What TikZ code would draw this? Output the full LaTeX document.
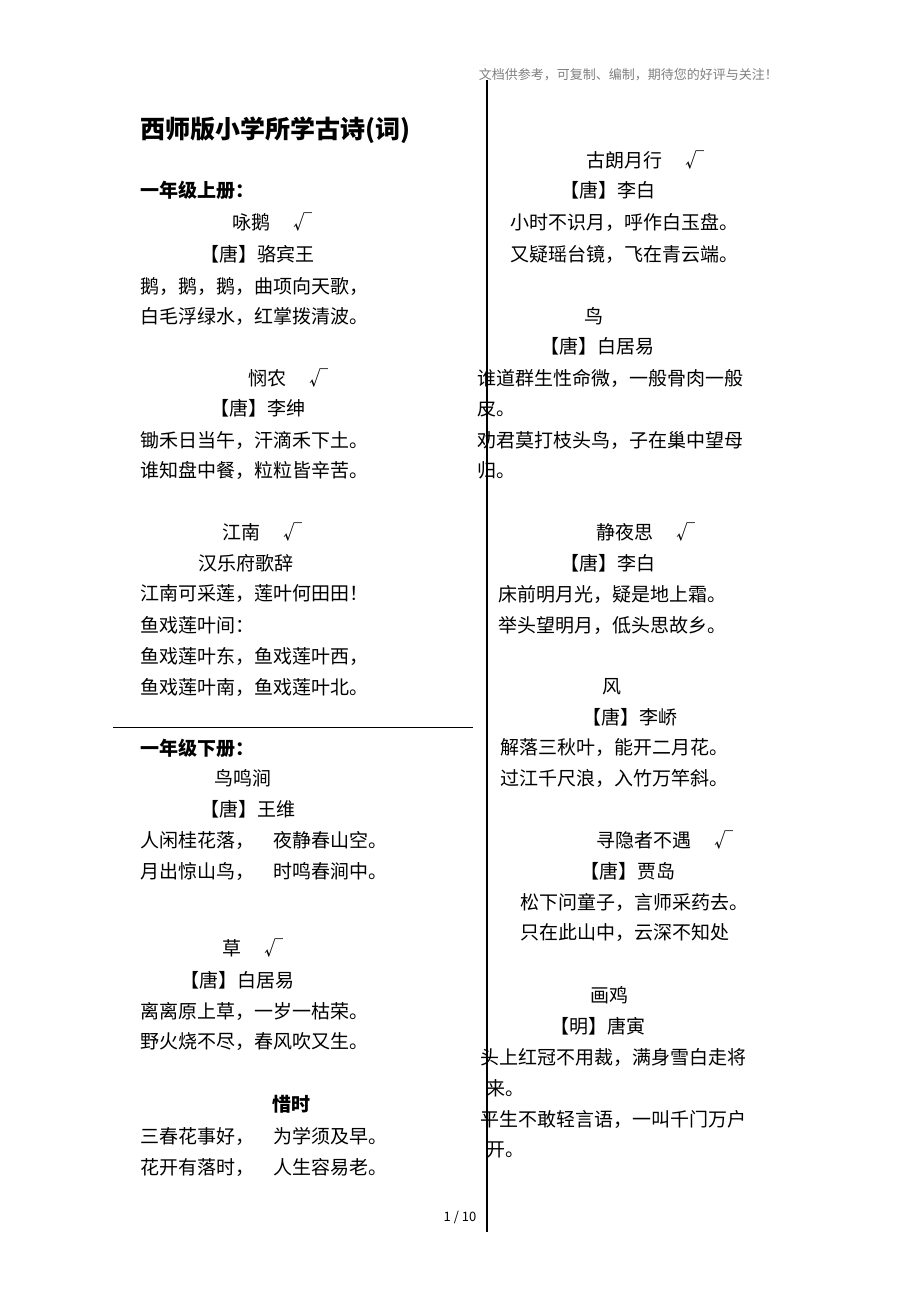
\documentclass[tikz,border=0pt]{standalone}
\usepackage{fontspec}
\setmainfont{Noto Sans CJK SC}
\newcommand{\tx}[4]{\node[anchor=west,inner sep=0pt,font=\fontsize{19}{19}\selectfont] (#1) at (#2,#3) {#4};}
\newcommand{\tb}[4]{\node[anchor=west,inner sep=0pt,font=\fontsize{19}{19}\selectfont\bfseries] (#1) at (#2,#3) {#4};}
\begin{document}
\begin{tikzpicture}[x=1pt,y=-1pt]
\useasboundingbox[fill=white] (0,0) rectangle (920,1302);
\node[anchor=east,inner sep=0pt,text=gray,font=\fontsize{13}{13}\selectfont] (hdr) at (778,75) {文档供参考，可复制、编制，期待您的好评与关注！};
\node[anchor=west,inner sep=0pt,font=\fontsize{25}{25}\selectfont\bfseries] (title) at (140,130) {西师版小学所学古诗(词)};
\coordinate (vt) at (487,80); \coordinate (vb) at (487,1232);
\draw[line width=1.2pt] (vt) -- (vb);
\coordinate (hl) at (113,727); \coordinate (hr) at (473,727);
\draw[line width=0.8pt] (hl) -- (hr);
\tb{a1}{140}{190}{一年级上册：}
\tx{a2}{232}{222}{咏鹅　 √}
\tx{a3}{200}{254}{【唐】骆宾王}
\tx{a4}{140}{286}{鹅，鹅，鹅，曲项向天歌，}
\tx{a5}{140}{316}{白毛浮绿水，红掌拨清波。}
\tx{a6}{248}{378}{悯农　 √}
\tx{a7}{210}{408}{【唐】李绅}
\tx{a8}{140}{440}{锄禾日当午，汗滴禾下土。}
\tx{a9}{140}{470}{谁知盘中餐，粒粒皆辛苦。}
\tx{a10}{222}{532}{江南　 √}
\tx{a11}{198}{563}{汉乐府歌辞}
\tx{a12}{140}{594}{江南可采莲，莲叶何田田！}
\tx{a13}{140}{625}{鱼戏莲叶间：}
\tx{a14}{140}{656}{鱼戏莲叶东，鱼戏莲叶西，}
\tx{a15}{140}{687}{鱼戏莲叶南，鱼戏莲叶北。}
\tb{b1}{140}{748}{一年级下册：}
\tx{b2}{214}{778}{鸟鸣涧}
\tx{b3}{200}{809}{【唐】王维}
\tx{b4}{140}{840}{人闲桂花落，　夜静春山空。}
\tx{b5}{140}{871}{月出惊山鸟，　时鸣春涧中。}
\tx{b6}{222}{948}{草　 √}
\tx{b7}{180}{980}{【唐】白居易}
\tx{b8}{140}{1011}{离离原上草，一岁一枯荣。}
\tx{b9}{140}{1042}{野火烧不尽，春风吹又生。}
\tb{b10}{272}{1104}{惜时}
\tx{b11}{140}{1136}{三春花事好，　为学须及早。}
\tx{b12}{140}{1167}{花开有落时，　人生容易老。}
\node[inner sep=0pt,font=\fontsize{13}{13}\selectfont] (ft) at (460,1217) {1 / 10};
\tx{c1}{586}{160}{古朗月行　 √}
\tx{c2}{560}{190}{【唐】李白}
\tx{c3}{510}{222}{小时不识月，呼作白玉盘。}
\tx{c4}{510}{254}{又疑瑶台镜，飞在青云端。}
\tx{c5}{584}{316}{鸟}
\tx{c6}{540}{346}{【唐】白居易}
\tx{c7}{477}{378}{谁道群生性命微，一般骨肉一般}
\tx{c8}{477}{408}{皮。}
\tx{c9}{477}{440}{劝君莫打枝头鸟，子在巢中望母}
\tx{c10}{477}{470}{归。}
\tx{c11}{596}{532}{静夜思　 √}
\tx{c12}{560}{563}{【唐】李白}
\tx{c13}{498}{594}{床前明月光，疑是地上霜。}
\tx{c14}{498}{625}{举头望明月，低头思故乡。}
\tx{c15}{602}{687}{风}
\tx{c16}{582}{717}{【唐】李峤}
\tx{c17}{500}{748}{解落三秋叶，能开二月花。}
\tx{c18}{500}{778}{过江千尺浪，入竹万竿斜。}
\tx{c19}{596}{840}{寻隐者不遇　 √}
\tx{c20}{580}{871}{【唐】贾岛}
\tx{c21}{520}{902}{松下问童子，言师采药去。}
\tx{c22}{520}{933}{只在此山中，云深不知处}
\tx{c23}{590}{995}{画鸡}
\tx{c24}{550}{1026}{【明】唐寅}
\tx{c25}{480}{1057}{头上红冠不用裁，满身雪白走将}
\tx{c26}{486}{1088}{来。}
\tx{c27}{480}{1119}{平生不敢轻言语，一叫千门万户}
\tx{c28}{486}{1150}{开。}
\end{tikzpicture}
\end{document}
